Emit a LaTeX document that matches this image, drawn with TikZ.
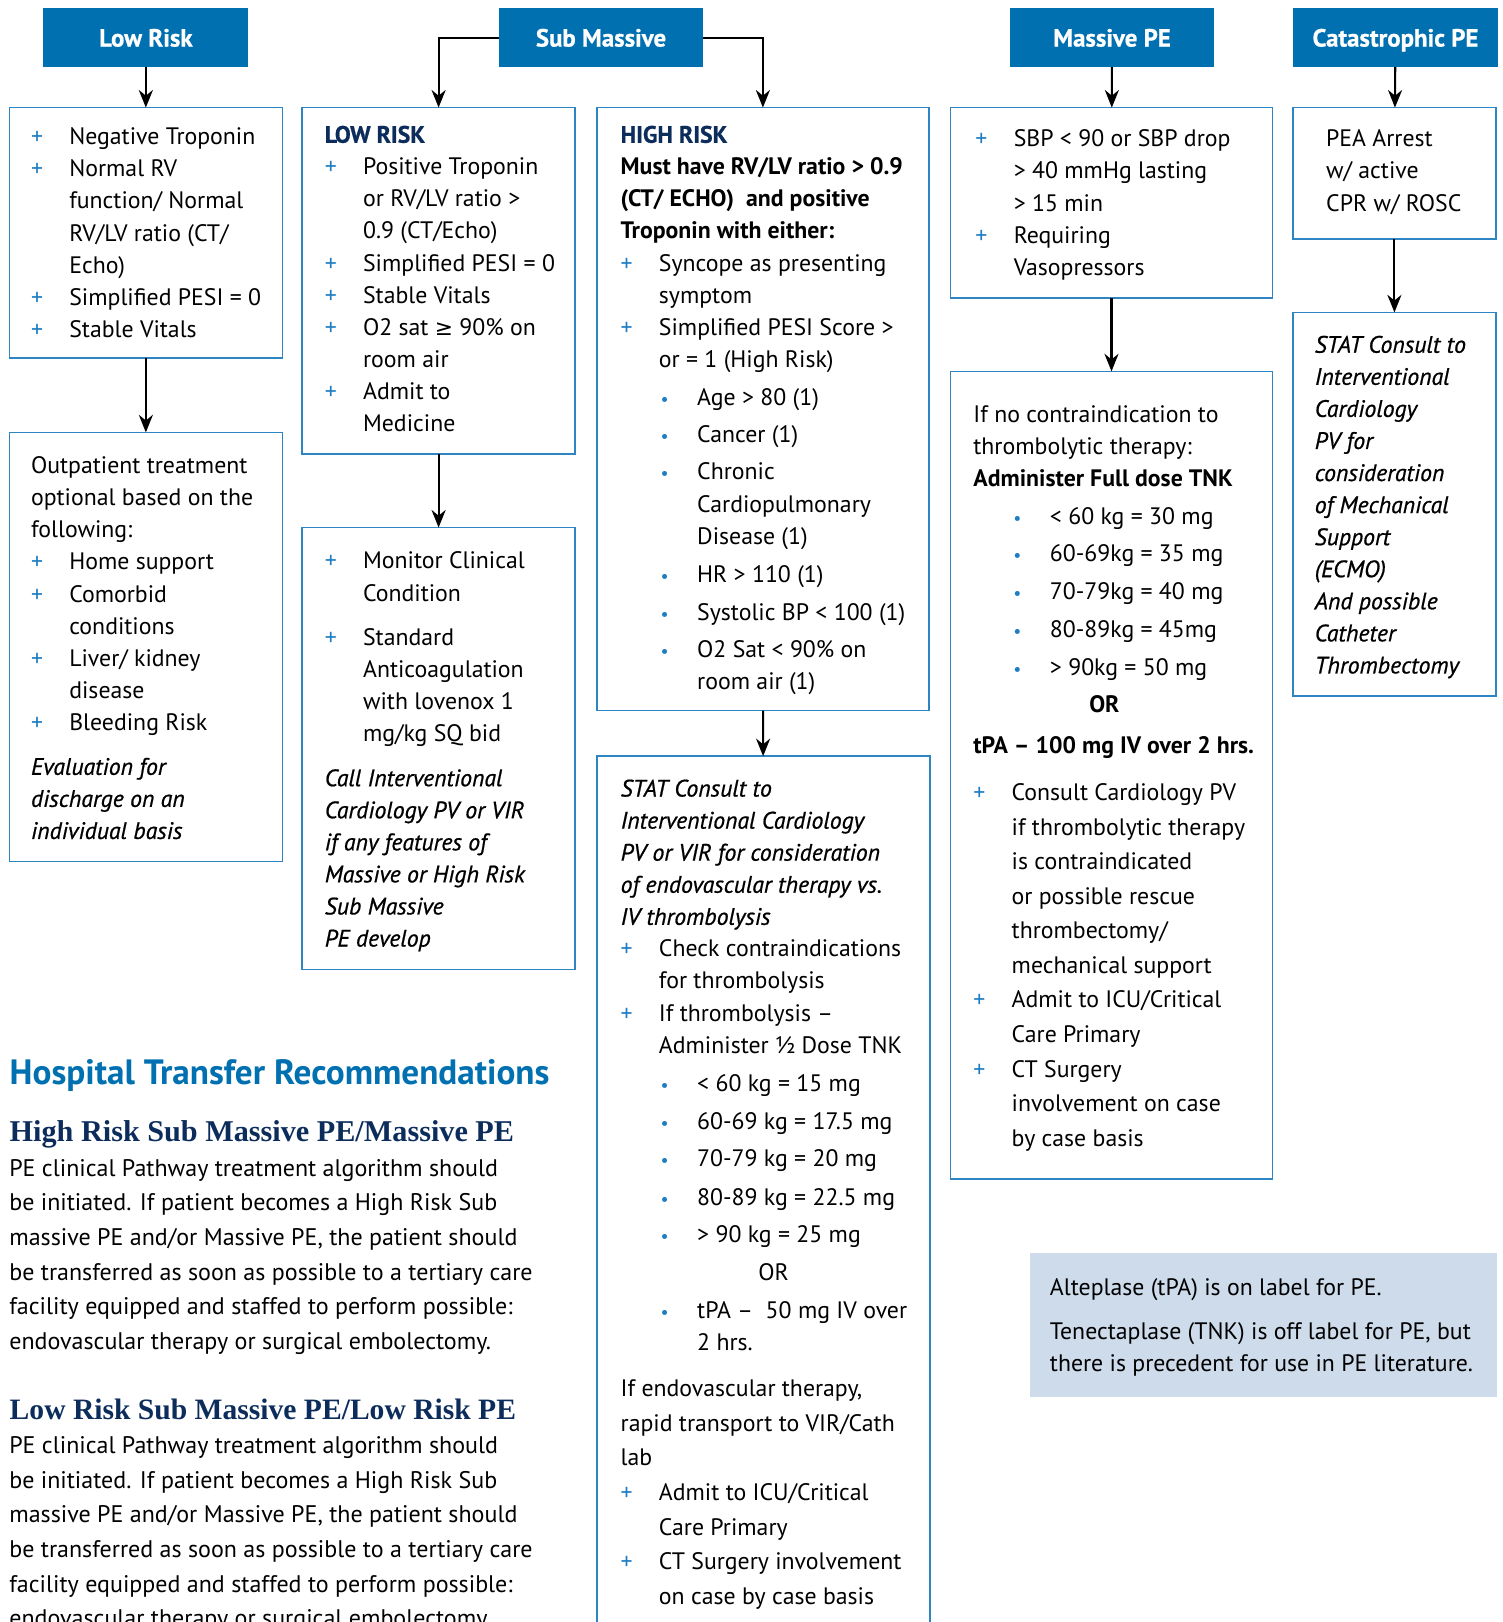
\documentclass[tikz,border=0pt]{standalone}
\usepackage{fontspec}
\setmainfont{PT Sans}
\newfontfamily\serifhd{Liberation Serif}
\newfontfamily\itm{PT Sans}[FakeBold=0.7]
\newfontfamily\hdrf{PT Sans}[FakeBold=0.8]
\newfontfamily\symf{DejaVu Sans}
\usetikzlibrary{arrows.meta}
\definecolor{hdrblue}{RGB}{0,112,176}
\definecolor{bordblue}{RGB}{45,133,196}
\definecolor{pblue}{RGB}{30,125,195}
\definecolor{navy}{RGB}{12,45,92}
\definecolor{notefill}{RGB}{205,219,235}
\newcommand\Ln[1]{\hbox{#1}}
\newcommand\Pl[1]{\hbox{\makebox[18.5pt][l]{\textcolor{pblue}{+}}#1}}
\newcommand\In[1]{\hbox{\hspace*{18.5pt}#1}}
\newcommand\Bu[1]{\hbox{\hspace*{18.5pt}\makebox[18.5pt][l]{\hspace{0.8pt}\textcolor{pblue}{\scalebox{0.75}{\textbullet}}}#1}}
\newcommand\BI[1]{\hbox{\hspace*{37pt}#1}}
\newcommand\Sk[1]{\vskip#1\relax}
\newcommand\Blk[2]{\vtop{\baselineskip=#1\relax\lineskiplimit=-20pt\lineskip=0pt #2}}
\newcommand\hd[1]{\textcolor{navy}{\hdrf\bfseries #1}}
\newcommand\ii{\itm\itshape}
\newcommand\geqs{{\symf\fontsize{10.5}{12}\selectfont ≥}}
\begin{document}
\begin{tikzpicture}[x=0.5pt,y=-0.5pt,
  hdr/.style={fill=hdrblue, text=white, font=\fontsize{12}{14}\selectfont\hdrf\bfseries, text height=8.5pt, text depth=0pt, minimum width=99pt, minimum height=28.5pt, anchor=north west, inner sep=0pt, outer sep=0pt},
  box/.style={draw=bordblue, line width=0.75pt, fill=white, anchor=north west, inner sep=0pt, outer sep=0pt},
  txt/.style={anchor=base west, inner sep=0pt, outer sep=0pt, font=\fontsize{11.5}{15.5}\selectfont},
  para/.style={anchor=base west, inner sep=0pt, outer sep=0pt, font=\fontsize{11.6}{16.75}\selectfont},
  arr/.style={-{Stealth[length=8.5pt,width=6.8pt]}, line width=1pt, black}]
\useasboundingbox (0,0) rectangle (1452,1568);
% headers
\node[hdr] (hlr) at (42,8) {Low Risk};
\node[hdr] (hsm) at (482,8) {Sub Massive};
\node[hdr] (hm) at (976,8) {Massive PE};
\node[hdr] (hc) at (1250,8) {Catastrophic PE};
% boxes
\node[box, minimum width=132pt, minimum height=121pt] (blr1) at (9,104) {};
\node[box, minimum width=132pt, minimum height=207.5pt] (blr2) at (9,418) {};
\node[box, minimum width=132pt, minimum height=167.5pt] (bsml1) at (292,104) {};
\node[box, minimum width=132pt, minimum height=213.5pt] (bsml2) at (292,510) {};
\node[box, minimum width=160.5pt, minimum height=291.5pt] (bsmh1) at (577,104) {};
\node[box, minimum width=161pt, minimum height=450pt] (bsmh2) at (577,731) {};
\node[box, minimum width=155.5pt, minimum height=92pt] (bm1) at (919,104) {};
\node[box, minimum width=155.5pt, minimum height=390.5pt] (bm2) at (919,359) {};
\node[box, minimum width=98pt, minimum height=63.5pt] (bc1) at (1250,104) {};
\node[box, minimum width=98pt, minimum height=185.5pt] (bc2) at (1250,302) {};
\node[fill=notefill, anchor=north west, inner sep=0pt, minimum width=226pt, minimum height=69.5pt] (note) at (995,1211) {};
% connectors
\draw[arr] (hlr) -- (blr1);
\draw[arr] (blr1) -- (blr2);
\draw[arr] (hsm.west) -| (bsml1.north);
\draw[arr] (hsm.east) -| (bsmh1.north);
\draw[arr] (bsml1) -- (bsml2);
\draw[arr] (bsmh1) -- (bsmh2);
\draw[arr] (hm) -- (bm1);
\draw[arr] (bm1) -- (bm2);
\draw[arr] (hc) -- (bc1);
\draw[arr] (bc1) -- (bc2);
% texts
\node[txt] (tlr1) at (30,140) {\Blk{15.5pt}{%
\Pl{Negative Troponin}\Pl{Normal RV}\In{function/ Normal}\In{RV/LV ratio (CT/}\In{Echo)}%
\Pl{Simplified PESI = 0}\Pl{Stable Vitals}}};
\node[txt] (tlr2) at (30,458) {\Blk{15.5pt}{%
\Ln{Outpatient treatment}\Ln{optional based on the}\Ln{following:}%
\Pl{Home support}\Pl{Comorbid}\In{conditions}\Pl{Liver/ kidney}\In{disease}\Pl{Bleeding Risk}\Sk{6pt}%
\Ln{\ii Evaluation for}\Ln{\ii discharge on an}\Ln{\ii individual basis}}};
\node[txt] (tsml1) at (314,138) {\Blk{15.5pt}{%
\Ln{\hd{LOW RISK}}\Pl{Positive Troponin}\In{or RV/LV ratio >}\In{0.9 (CT/Echo)}%
\Pl{Simplified PESI = 0}\Pl{Stable Vitals}\Pl{O2 sat \geqs\ 90\% on}\In{room air}\Pl{Admit to}\In{Medicine}}};
\node[txt] (tsml2) at (314,550) {\Blk{15.5pt}{%
\Pl{Monitor Clinical}\In{Condition}\Sk{6pt}%
\Pl{Standard}\In{Anticoagulation}\In{with lovenox 1}\In{mg/kg SQ bid}\Sk{6pt}%
\Ln{\ii Call Interventional}\Ln{\ii Cardiology PV or VIR}\Ln{\ii if any features of}%
\Ln{\ii Massive or High Risk}\Ln{\ii Sub Massive}\Ln{\ii PE develop}}};
\node[txt] (tsmh1) at (600,138) {\Blk{15.5pt}{%
\Ln{\hd{HIGH RISK}}\Ln{\bfseries Must have RV/LV ratio > 0.9}\Ln{\bfseries (CT/ ECHO)\ \ and positive}%
\Ln{\bfseries Troponin with either:}%
\Pl{Syncope as presenting}\In{symptom}\Pl{Simplified PESI Score >}\In{or = 1 (High Risk)}%
\Sk{3pt}\Bu{Age > 80 (1)}\Sk{2.5pt}\Bu{Cancer (1)}\Sk{2.5pt}\Bu{Chronic}\BI{Cardiopulmonary}\BI{Disease (1)}%
\Sk{3pt}\Bu{HR > 110 (1)}\Sk{3pt}\Bu{Systolic BP < 100 (1)}\Sk{2.5pt}\Bu{O2 Sat < 90\% on}\BI{room air (1)}}};
\node[txt] (tsmh2) at (600,770) {\Blk{15.5pt}{%
\Ln{\ii STAT Consult to}\Ln{\ii Interventional Cardiology}\Ln{\ii PV or VIR for consideration}%
\Ln{\ii of endovascular therapy vs.}\Ln{\ii IV thrombolysis}%
\Pl{Check contraindications}\In{for thrombolysis}\Pl{If thrombolysis –}\In{Administer ½ Dose TNK}%
\Sk{3pt}\Bu{< 60 kg = 15 mg}\Sk{3pt}\Bu{60-69 kg = 17.5 mg}\Sk{2.5pt}\Bu{70-79 kg = 20 mg}%
\Sk{3pt}\Bu{80-89 kg = 22.5 mg}\Sk{2.5pt}\Bu{> 90 kg = 25 mg}\Sk{3pt}\Ln{\hspace*{66.5pt}OR}%
\Sk{3pt}\Bu{tPA –\ \ 50 mg IV over}\BI{2 hrs.}%
\baselineskip=16.75pt\relax\Sk{5.25pt}%
\Ln{If endovascular therapy,}\Ln{rapid transport to VIR/Cath}\Ln{lab}%
\Pl{Admit to ICU/Critical}\In{Care Primary}\Pl{CT Surgery involvement}\In{on case by case basis}}};
\node[txt] (tm1) at (943,142) {\Blk{15.5pt}{%
\Pl{SBP < 90 or SBP drop}\In{> 40 mmHg lasting}\In{> 15 min}\Pl{Requiring}\In{Vasopressors}}};
\node[txt] (tm2) at (941,408) {\Blk{15.5pt}{%
\Ln{If no contraindication to}\Ln{thrombolytic therapy:}\Ln{\bfseries Administer Full dose TNK}%
\Sk{3pt}\Bu{< 60 kg = 30 mg}\Sk{2.5pt}\Bu{60-69kg = 35 mg}\Sk{3pt}\Bu{70-79kg = 40 mg}%
\Sk{2.5pt}\Bu{80-89kg = 45mg}\Sk{3pt}\Bu{> 90kg = 50 mg}\Sk{2.5pt}\Ln{\hspace*{56pt}\bfseries OR}%
\Sk{4pt}\Ln{\bfseries tPA – 100 mg IV over 2 hrs.}%
\baselineskip=16.7pt\relax\Sk{6.3pt}%
\Pl{Consult Cardiology PV}\In{if thrombolytic therapy}\In{is contraindicated}\In{or possible rescue}%
\In{thrombectomy/}\In{mechanical support}\Pl{Admit to ICU/Critical}\In{Care Primary}%
\Pl{CT Surgery}\In{involvement on case}\In{by case basis}}};
\node[txt] (tc1) at (1282,142) {\Blk{15.5pt}{%
\Ln{PEA Arrest}\Ln{w/ active}\Ln{CPR w/ ROSC}}};
\node[txt] (tc2) at (1271,341) {\Blk{15.5pt}{\ii
\Ln{STAT Consult to}\Ln{Interventional}\Ln{Cardiology}\Ln{PV for}\Ln{consideration}\Ln{of Mechanical}%
\Ln{Support}\Ln{(ECMO)}\Ln{And possible}\Ln{Catheter}\Ln{Thrombectomy}}};
\node[txt] (tnote) at (1015,1252) {\Blk{15.5pt}{%
\Ln{Alteplase (tPA) is on label for PE.}\Sk{6pt}%
\Ln{Tenectaplase (TNK) is off label for PE, but}\Ln{there is precedent for use in PE literature.}}};
% bottom-left section
\node[anchor=base west, inner sep=0pt, font=\fontsize{17}{20}\selectfont\bfseries, text=hdrblue] (htitle) at (9,1048) {Hospital Transfer Recommendations};
\node[anchor=base west, inner sep=0pt, font=\fontsize{14.6}{17}\selectfont\serifhd\bfseries, text=navy] (hh1) at (9,1103) {High Risk Sub Massive PE/Massive PE};
\node[para] (p1) at (9,1137) {\Blk{16.75pt}{%
\Ln{PE clinical Pathway treatment algorithm should}\Ln{be initiated. If patient becomes a High Risk Sub}%
\Ln{massive PE and/or Massive PE, the patient should}\Ln{be transferred as soon as possible to a tertiary care}%
\Ln{facility equipped and staffed to perform possible:}\Ln{endovascular therapy or surgical embolectomy.}}};
\node[anchor=base west, inner sep=0pt, font=\fontsize{14.3}{17}\selectfont\serifhd\bfseries, text=navy] (hh2) at (9,1372) {Low Risk Sub Massive PE/Low Risk PE};
\node[para] (p2) at (9,1405) {\Blk{16.75pt}{%
\Ln{PE clinical Pathway treatment algorithm should}\Ln{be initiated. If patient becomes a High Risk Sub}%
\Ln{massive PE and/or Massive PE, the patient should}\Ln{be transferred as soon as possible to a tertiary care}%
\Ln{facility equipped and staffed to perform possible:}\Ln{endovascular therapy or surgical embolectomy.}}};
\end{tikzpicture}
\end{document}
